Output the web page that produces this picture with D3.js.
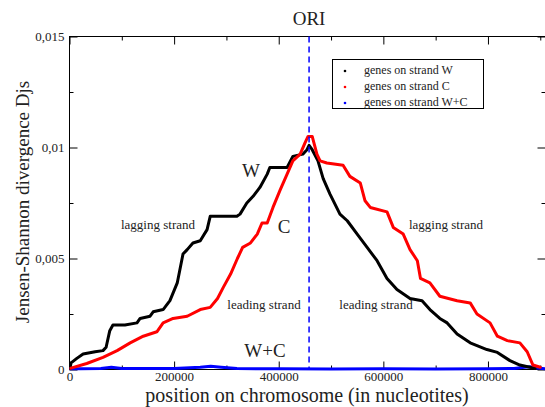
<!DOCTYPE html>
<html><head><meta charset="utf-8">
<script src="https://cdn.jsdelivr.net/npm/d3@7"></script>
<style>
html,body{margin:0;padding:0;background:#fff;}
svg text{font-family:"Liberation Serif","Times New Roman",serif;fill:#222;}
</style></head>
<body>
<svg id="c" width="545" height="407"></svg>
<script>
// ---- data ----
const strandW = [[1000,0.00005],[3000,0.0003],[14000,0.0005],[26000,0.0007],[49000,0.0008],[64000,0.00085],[70000,0.0010],[77000,0.00175],[83000,0.002],[106000,0.002],[129000,0.0021],[135000,0.0023],[154000,0.0024],[160000,0.0026],[179000,0.0027],[192000,0.0031],[206000,0.0039],[217000,0.0052],[225000,0.0054],[236000,0.0057],[250000,0.0058],[263000,0.0063],[269000,0.0069],[320000,0.0069],[326000,0.0070],[339000,0.0075],[351000,0.0078],[364000,0.0082],[378000,0.0088],[383000,0.0091],[416000,0.0091],[427000,0.0096],[446000,0.0097],[454000,0.0099],[458000,0.0101],[464000,0.0099],[475000,0.0094],[485000,0.0086],[498000,0.0079],[517000,0.0070],[531000,0.0067],[550000,0.0061],[569000,0.0055],[588000,0.0049],[607000,0.0041],[626000,0.0036],[651000,0.0032],[674000,0.0031],[689000,0.0027],[708000,0.0023],[722000,0.0021],[741000,0.0016],[766000,0.0012],[798000,0.0009],[818000,0.00077],[842000,0.0004],[861000,0.0002],[880000,0.0001],[890000,0.00005]];
const strandC = [[1000,0.00005],[33000,0.00027],[64000,0.00055],[91000,0.00085],[116000,0.0012],[141000,0.0015],[167000,0.0017],[179000,0.0021],[198000,0.0023],[225000,0.0024],[250000,0.0027],[269000,0.0028],[283000,0.0032],[294000,0.0037],[308000,0.0043],[321000,0.0050],[331000,0.0055],[346000,0.0057],[359000,0.0061],[368000,0.0066],[378000,0.0066],[389000,0.0073],[403000,0.0081],[416000,0.0088],[427000,0.0094],[441000,0.0097],[450000,0.0102],[456000,0.0105],[464000,0.0105],[473000,0.0097],[479000,0.0094],[492000,0.0093],[523000,0.0092],[536000,0.0087],[556000,0.0084],[565000,0.0076],[575000,0.0073],[607000,0.0071],[619000,0.0064],[638000,0.0061],[651000,0.0054],[665000,0.0049],[671000,0.0041],[689000,0.0039],[708000,0.0033],[741000,0.0031],[766000,0.0030],[779000,0.0025],[804000,0.0021],[818000,0.0015],[837000,0.0013],[861000,0.0012],[875000,0.0008],[886000,0.0002],[900000,0.0001]];
const strandWC = [[0,0.00003],[20000,0.00003],[60000,0.00005],[80000,0.0001],[100000,0.00005],[150000,0.00004],[200000,0.00005],[250000,0.0001],[270000,0.00015],[290000,0.0001],[320000,0.00004],[400000,0.00003],[500000,0.00002],[600000,0.00003],[700000,0.00002],[800000,0.00003],[850000,0.00005],[870000,0.0001],[880000,0.00012],[890000,0.00008],[910000,0.00003]];
const oriPosition = 458000;
const xMajorTicks = [0,200000,400000,600000,800000];
const xTickLabels = ["0","200000","400000","600000","800000"];
const xMinorTicks = [100000,300000,500000,700000,900000];
const yMajorTicks = [0,0.005,0.01,0.015];
const yTickLabels = ["0","0,005","0,01","0,015"];
const yMinorTicks = [0.0025,0.0075,0.0125];
const legendLabels = ["genes on strand W","genes on strand C","genes on strand W+C"];
const seriesColors = ["#000000","#ff0000","#0000ff"];

// ---- layout ----
const svg = d3.select("#c");
const L = 69.5, R = 545.5, T = 36.5, B = 369.5;
const x = d3.scaleLinear().domain([0,910000]).range([L,R]);
const y = d3.scaleLinear().domain([0,0.015]).range([B,T]);

svg.append("defs").append("clipPath").attr("id","clip")
  .append("rect").attr("x",L).attr("y",T).attr("width",R-L).attr("height",B-T+2);

// axes (inward ticks)
function styleAxis(g){ g.select(".domain").remove(); g.selectAll("line").attr("stroke","#000"); g.selectAll("text").attr("font-size","13px").attr("font-family","Liberation Serif"); }
svg.append("g").attr("transform",`translate(0,${B})`)
  .call(d3.axisBottom(x).tickValues(xMajorTicks).tickSize(-8).tickPadding(2).tickFormat((d,i)=>xTickLabels[i]))
  .call(styleAxis);
svg.append("g").attr("transform",`translate(0,${B})`)
  .call(d3.axisBottom(x).tickValues(xMinorTicks).tickSize(-4).tickFormat(""))
  .call(styleAxis);
svg.append("g").attr("transform",`translate(0,${T})`)
  .call(d3.axisTop(x).tickValues(xMajorTicks).tickSize(-8).tickFormat(""))
  .call(styleAxis);
svg.append("g").attr("transform",`translate(0,${T})`)
  .call(d3.axisTop(x).tickValues(xMinorTicks).tickSize(-4).tickFormat(""))
  .call(styleAxis);
svg.append("g").attr("transform",`translate(${L},0)`)
  .call(d3.axisLeft(y).tickValues(yMajorTicks).tickSize(-8).tickPadding(5).tickFormat((d,i)=>yTickLabels[i]))
  .call(styleAxis);
svg.append("g").attr("transform",`translate(${L},0)`)
  .call(d3.axisLeft(y).tickValues(yMinorTicks).tickSize(-4).tickFormat(""))
  .call(styleAxis);
svg.append("g").attr("transform",`translate(${R},0)`)
  .call(d3.axisRight(y).tickValues(yMajorTicks).tickSize(-8).tickFormat(""))
  .call(styleAxis);
svg.append("g").attr("transform",`translate(${R},0)`)
  .call(d3.axisRight(y).tickValues(yMinorTicks).tickSize(-4).tickFormat(""))
  .call(styleAxis);

// frame
svg.append("rect").attr("x",L).attr("y",T).attr("width",R-L).attr("height",B-T)
  .attr("fill","none").attr("stroke","#000").attr("stroke-width",1);

// series
const line = d3.line().x(d=>x(d[0])).y(d=>y(d[1]));
const plot = svg.append("g").attr("clip-path","url(#clip)");
[[strandWC,2],[strandW,0],[strandC,1]].forEach(([data,i])=>{
  plot.append("path").datum(data).attr("d",line).attr("fill","none")
    .attr("stroke",seriesColors[i]).attr("stroke-width",3).attr("stroke-linejoin","round").attr("stroke-linecap","round");
});

// ORI dashed line
svg.append("line").attr("x1",x(oriPosition)).attr("x2",x(oriPosition)).attr("y1",T).attr("y2",B)
  .attr("stroke","#0000ff").attr("stroke-width",1.5).attr("stroke-dasharray","6,4");

// titles
svg.append("text").attr("x",x(oriPosition)).attr("y",25).attr("text-anchor","middle").attr("font-size","19px").text("ORI");
svg.append("text").attr("x",307).attr("y",402).attr("text-anchor","middle").attr("font-size","20px").text("position on chromosome (in nucleotites)");
svg.append("text").attr("transform","translate(29,202) rotate(-90)").attr("text-anchor","middle").attr("font-size","19px").text("Jensen-Shannon divergence Djs");

// annotations
const ann = [["W",251,177,19],["C",284,233,19],["W+C",265,357,19],["lagging strand",158,229,13],["leading strand",264,309,13],["leading strand",376,309,13],["lagging strand",446,229,13]];
ann.forEach(a=>svg.append("text").attr("x",a[1]).attr("y",a[2]).attr("text-anchor","middle").attr("font-size",a[3]+"px").text(a[0]));

// legend
const lg = svg.append("g");
lg.append("rect").attr("x",332.5).attr("y",59.5).attr("width",151).attr("height",49).attr("fill","#fff").attr("stroke","#000").attr("stroke-width",1);
legendLabels.forEach((t,i)=>{
  const yy = 70 + i*16;
  lg.append("circle").attr("cx",345).attr("cy",yy+1).attr("r",1.3).attr("fill",seriesColors[i]);
  lg.append("text").attr("x",364).attr("y",yy+4).attr("font-size","12px").text(t);
});
</script>
</body></html>
